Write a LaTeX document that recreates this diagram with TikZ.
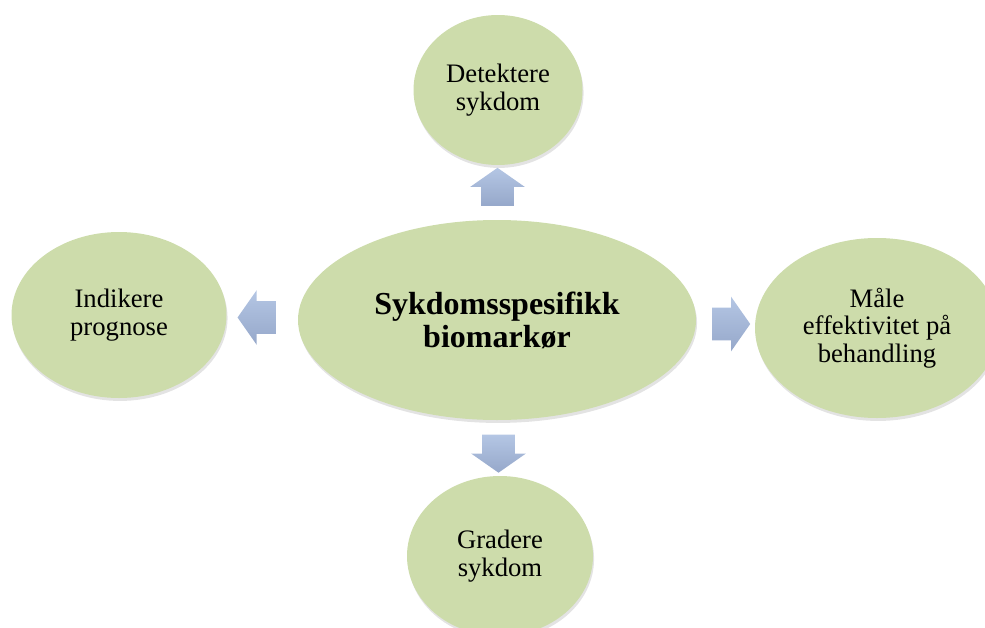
\documentclass[tikz,border=0pt]{standalone}
\usepackage{fontspec}
\setmainfont{Liberation Serif}
\usetikzlibrary{positioning, shapes.geometric, shapes.arrows, shadows, calc}
\definecolor{leaf}{RGB}{205,220,171}
\definecolor{arrowtop}{RGB}{180,198,228}
\definecolor{arrowbot}{RGB}{150,168,202}

\begin{document}
\begin{tikzpicture}[x=0.75pt, y=-0.75pt,
  bubble/.style={ellipse, fill=leaf, inner sep=0pt, align=center,
    font=\fontsize{20}{20.5}\selectfont,
    drop shadow={opacity=0.22, shadow xshift=0.8pt, shadow yshift=-2.2pt}},
  blockarrow/.style={single arrow, draw=none, inner sep=0pt,
    minimum height=28.5pt, minimum width=40.5pt,
    single arrow head extend=8.25pt, single arrow tip angle=110,
    shape border rotate=#1,
    top color=arrowtop, bottom color=arrowbot}]

\clip (0,0) rectangle (985,628);

\node[bubble, minimum width=298.5pt, minimum height=150pt, font=\bfseries\fontsize{24}{24.75}\selectfont] (marker) at (497,320) {Sykdomsspesifikk\\biomarkør};
\node[bubble, minimum width=126.75pt, minimum height=112.5pt] (detect) at (498,90) {Detektere\\sykdom};
\node[bubble, minimum width=161.25pt, minimum height=124.5pt] (prognosis) at (119,315) {Indikere\\prognose};
\node[bubble, minimum width=183pt, minimum height=135pt] (effect) at (877,328) {Måle\\effektivitet på\\behandling};
\node[bubble, minimum width=139.5pt, minimum height=120pt] (grade) at (500,556) {Gradere\\sykdom};

% block arrows, shaft width set by the rule
\node[blockarrow=90] (toDetect) at ($(marker.north)!0.5!(detect.south)$) {\rule{24pt}{0pt}};
\node[blockarrow=180] (toPrognosis) at ($(marker.west)!0.5!(prognosis.east)$) {\rule{0pt}{24pt}};
\node[blockarrow=0] (toEffect) at ($(marker.east)!0.5!(effect.west)$) {\rule{0pt}{24pt}};
\node[blockarrow=270] (toGrade) at ($(marker.south)!0.5!(grade.north)$) {\rule{24pt}{0pt}};

\end{tikzpicture}
\end{document}
